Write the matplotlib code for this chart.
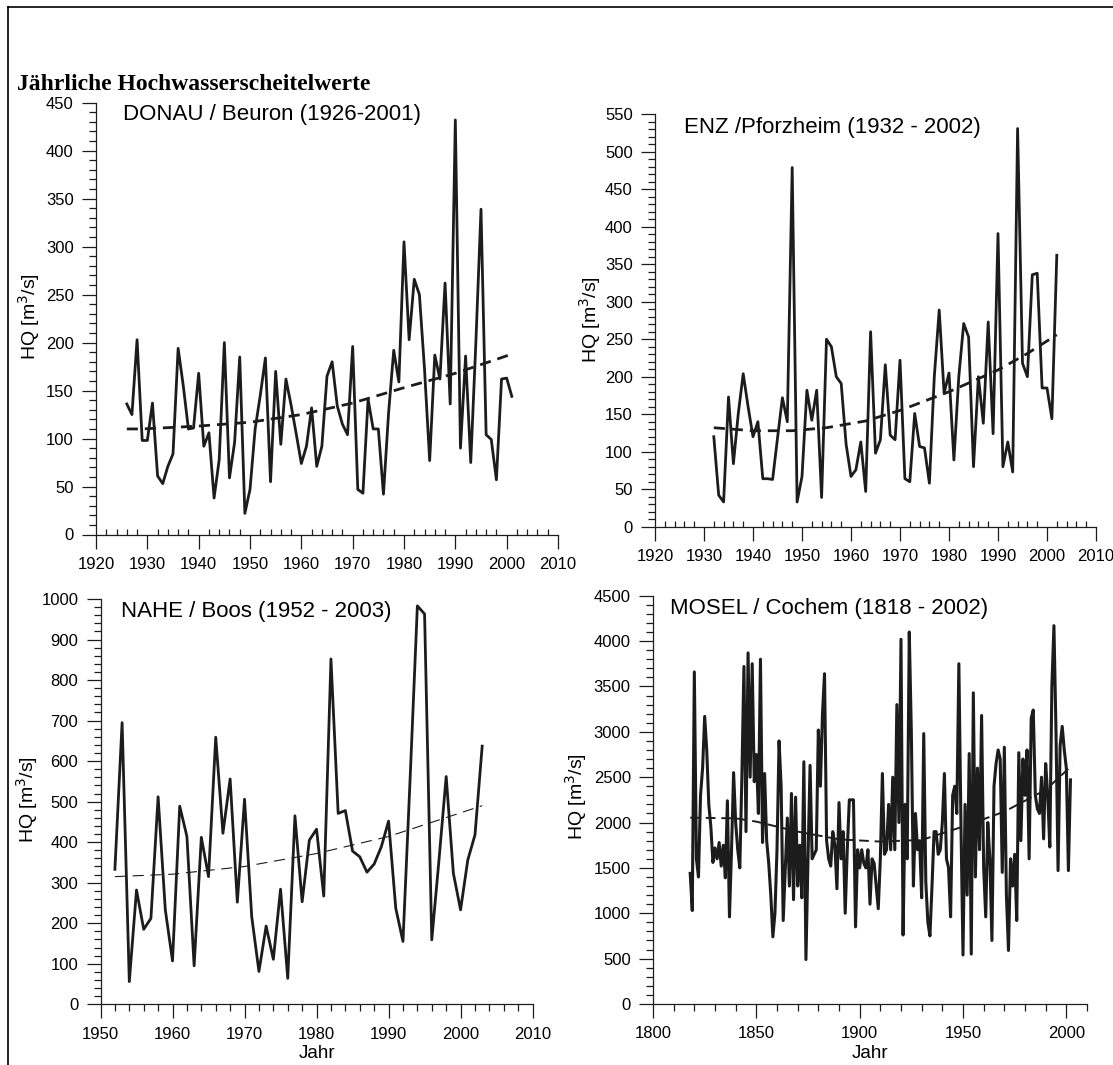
import numpy as np
import matplotlib
matplotlib.use("Agg")
import matplotlib.pyplot as plt
from matplotlib.ticker import MultipleLocator
from matplotlib.lines import Line2D

W, H = 1113, 1065
INK = "#1c1c1c"

# ── data ───────────────────────────────────────────────────────────────────
donau_years = np.arange(1926, 2002)
donau_hq = [136, 125, 203, 98,
            98, 137, 61, 53, 71, 84, 194, 155, 110, 111,
            168, 92, 106, 38, 78, 200, 59, 96, 185, 22,
            47, 110, 145, 184, 55, 170, 94, 162, 135, 105,
            74, 92, 132, 71, 92, 165, 180, 134, 115, 104,
            196, 47, 43, 141, 110, 110, 42, 127, 192, 159,
            305, 203, 266, 250, 172, 77, 187, 162, 262, 136,
            432, 90, 186, 75, 200, 339, 104, 99, 57, 162,
            163, 144]
donau_trend_years = [1926, 1929, 1940, 1950, 1960, 1970, 1980, 1990, 2001]
donau_trend = [110, 110, 113, 117, 125, 137, 153, 168, 188]

enz_years = np.arange(1932, 2003)
enz_hq = [120, 42, 33, 173, 84, 151, 204, 160,
          120, 140, 64, 64, 63, 118, 172, 140, 479, 33,
          67, 182, 142, 182, 39, 250, 240, 200, 191, 110,
          67, 76, 113, 47, 260, 98, 116, 216, 122, 116,
          222, 64, 60, 151, 107, 105, 58, 200, 289, 178,
          205, 89, 200, 271, 253, 80, 200, 138, 273, 124,
          391, 80, 113, 73, 531, 218, 200, 336, 338, 185,
          185, 144, 362]
enz_trend_years = [1932, 1940, 1948, 1955, 1963, 1970, 1980, 1990, 1996, 2002]
enz_trend = [132, 128, 128, 132, 141, 155, 180, 209, 231, 256]

nahe_years = np.arange(1952, 2004)
nahe_hq = [333, 695, 56, 282, 185, 212, 512, 233,
           107, 489, 414, 95, 412, 315, 659, 422, 556, 252,
           506, 216, 81, 193, 111, 284, 64, 465, 253, 405,
           432, 267, 852, 471, 478, 378, 364, 326, 346, 389,
           452, 237, 155, 560, 983, 963, 159, 356, 562, 323,
           233, 356, 418, 637]
nahe_trend_years = [1952, 1960, 1970, 1980, 1990, 2003]
nahe_trend = [315, 321, 340, 372, 414, 490]

mosel_years = np.arange(1818, 2003)
mosel_hq = [1440, 1030,
            3660, 1600, 1400, 2300, 2600, 3170, 2800, 2200, 1950, 1560,
            1720, 1600, 1780, 1520, 1750, 1390, 2240, 960, 1700, 2550,
            2000, 1700, 1500, 2500, 3720, 1900, 3870, 2500, 3750, 2450,
            2750, 2100, 3800, 1780, 2540, 1800, 1550, 1200, 740, 1000,
            1700, 2900, 2400, 920, 1500, 2050, 1300, 2320, 1150, 2280,
            1300, 1750, 1170, 2670, 490, 1600, 2630, 1600, 1650, 1700,
            3020, 2400, 3200, 3640, 1800, 1600, 1520, 1900, 1750, 1270,
            2220, 1600, 1900, 1000, 1700, 2250, 2250, 2250, 850, 1700,
            1500, 1700, 1550, 1500, 1700, 1100, 1600, 1550, 1300, 1050,
            1600, 2540, 1650, 1700, 2200, 1700, 2500, 1700, 3300, 2000,
            4020, 760, 2200, 1600, 4100, 3000, 1300, 2100, 1700, 1800,
            1170, 2980, 1350, 900, 750, 1300, 1900, 1900, 1650, 1700,
            2000, 2540, 1600, 1500, 960, 2300, 2400, 2100, 3750, 2000,
            540, 2200, 1200, 2760, 550, 3430, 1400, 2600, 1700, 3180,
            1500, 960, 2000, 1600, 700, 2400, 2650, 2800, 2700, 1450,
            2830, 1200, 590, 1600, 1300, 1650, 920, 2770, 1800, 2700,
            2300, 2800, 1600, 3150, 3240, 2300, 2150, 2100, 2500, 1820,
            2650, 2300, 1730, 3500, 4170, 3000, 1470, 2850, 3060, 2800,
            2600, 1470, 2470]
mosel_trend_years = [1818, 1840, 1850, 1870, 1890, 1910, 1930, 1950, 1970, 1990, 2003]
mosel_trend = [2054, 2046, 2010, 1900, 1815, 1790, 1808, 1955, 2120, 2360, 2635]

# ── panels: name, data, axes box (pixels), limits, ticks ──────────────────
PANELS = [
    dict(title="DONAU / Beuron (1926-2001)", x=donau_years, y=donau_hq, lw=2.0,
         tx=donau_trend_years, ty=donau_trend, tlw=2.0, tdash=(4, 2.5),
         box=(96, 558, 102.7, 534.5), xlim=(1920, 2010), ylim=(0, 450),
         xmaj=10, xmin=2, ymaj=50, ymin=10, xmin_dir="in", jahr=False,
         title_xy=(123, 120), ylab_xy=(29, 317)),
    dict(title="ENZ /Pforzheim (1932 - 2002)", x=enz_years, y=enz_hq, lw=2.0,
         tx=enz_trend_years, ty=enz_trend, tlw=2.0, tdash=(4, 2.5),
         box=(655, 1096, 114.3, 526.7), xlim=(1920, 2010), ylim=(0, 550),
         xmaj=10, xmin=2, ymaj=50, ymin=10, xmin_dir="in", jahr=False,
         title_xy=(684, 133), ylab_xy=(590, 320)),
    dict(title="NAHE / Boos (1952 - 2003)", x=nahe_years, y=nahe_hq, lw=2.0,
         tx=nahe_trend_years, ty=nahe_trend, tlw=0.8, tdash=(10, 6),
         box=(100.5, 532.6, 599, 1004.3), xlim=(1950, 2010), ylim=(0, 1000),
         xmaj=10, xmin=2, ymaj=100, ymin=20, xmin_dir="out", jahr=True,
         title_xy=(121, 617), ylab_xy=(27, 800)),
    dict(title="MOSEL / Cochem (1818 - 2002)", x=mosel_years, y=mosel_hq, lw=2.2,
         tx=mosel_trend_years, ty=mosel_trend, tlw=1.4, tdash=(5, 3),
         box=(653, 1087, 595.7, 1004), xlim=(1800, 2010), ylim=(0, 4500),
         xmaj=50, xmin=10, ymaj=500, ymin=100, xmin_dir="out", jahr=True,
         title_xy=(670, 614), ylab_xy=(576, 797)),
]

plt.rcParams["font.family"] = ["Liberation Sans", "DejaVu Sans"]

fig = plt.figure(figsize=(W / 100, H / 100), dpi=100)
fig.patch.set_facecolor("white")

# frame round the whole picture (only top and left edge are visible)
fig.add_artist(Line2D([8 / W, 8 / W], [0, 1 - 7 / H], transform=fig.transFigure,
                      color="black", lw=1.2))
fig.add_artist(Line2D([8 / W, 1], [1 - 7 / H, 1 - 7 / H], transform=fig.transFigure,
                      color="black", lw=1.2))

fig.text(17 / W, 1 - 84 / H, "Jährliche Hochwasserscheitelwerte",
         family=["Liberation Serif", "DejaVu Serif"], fontweight="bold",
         fontsize=17, ha="left", va="center")

for p in PANELS:
    x0, x1, ytop, ybot = p["box"]
    ax = fig.add_axes([x0 / W, 1 - ybot / H, (x1 - x0) / W, (ybot - ytop) / H])
    ax.plot(p["x"], p["y"], color=INK, lw=p["lw"], zorder=3)
    ax.plot(p["tx"], p["ty"], color=INK, lw=p["tlw"], dashes=p["tdash"], zorder=4)

    ax.set_xlim(*p["xlim"])
    ax.set_ylim(*p["ylim"])
    ax.spines[["top", "right"]].set_visible(False)
    for s in ("left", "bottom"):
        ax.spines[s].set_linewidth(0.9)
        ax.spines[s].set_color(INK)

    ax.xaxis.set_major_locator(MultipleLocator(p["xmaj"]))
    ax.xaxis.set_minor_locator(MultipleLocator(p["xmin"]))
    ax.yaxis.set_major_locator(MultipleLocator(p["ymaj"]))
    ax.yaxis.set_minor_locator(MultipleLocator(p["ymin"]))
    ax.tick_params(which="major", length=10, width=0.9, color=INK,
                   labelsize=12, direction="out")
    ax.tick_params(which="minor", length=5, width=0.9, color=INK, direction="out")
    ax.tick_params(axis="x", which="major", pad=6)
    ax.tick_params(axis="y", which="major", pad=6)
    if p["xmin_dir"] == "in":
        ax.tick_params(axis="x", which="minor", direction="in", length=4)
    if p["title"].startswith("MOSEL"):
        ax.set_xticks([1800, 1850, 1900, 1950, 2000])

    fig.text(p["title_xy"][0] / W, 1 - p["title_xy"][1] / H, p["title"],
             fontsize=16, ha="left", va="baseline")
    fig.text(p["ylab_xy"][0] / W, 1 - p["ylab_xy"][1] / H, "HQ [m$^3$/s]",
             fontsize=14, rotation=90, ha="center", va="center")
    if p["jahr"]:
        cx = (x0 + x1) / 2
        fig.text(cx / W, 1 - 1053 / H, "Jahr", fontsize=13.5, ha="center", va="center")

fig.savefig("out.png", dpi=100)
plt.close(fig)
print("Wrote out.png")
